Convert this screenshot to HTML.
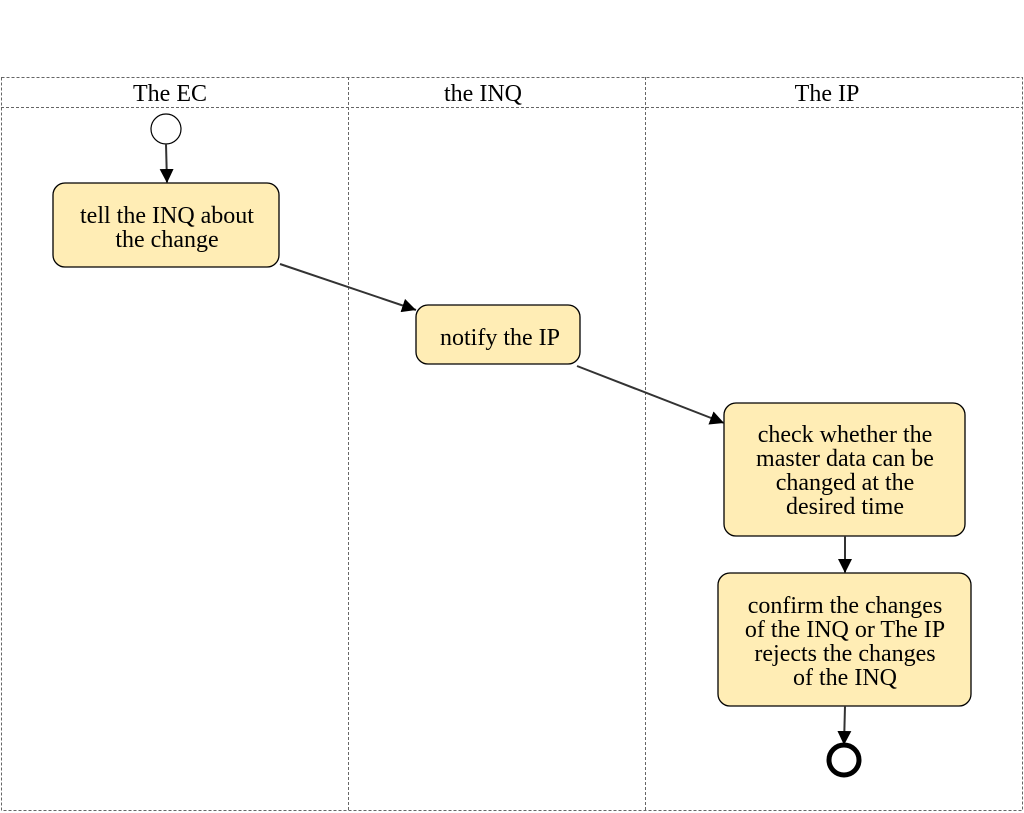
<!DOCTYPE html>
<html><head><style>body{margin:0;background:#fff}svg{display:block}text{font-family:"Liberation Serif",serif;font-size:24px;fill:#000;text-anchor:middle}</style></head><body>
<svg width="1024" height="813" viewBox="0 0 1024 813">
<defs><marker id="b" viewBox="0 0 10 10" refX="10" refY="5" markerWidth="14" markerHeight="14" markerUnits="userSpaceOnUse" orient="auto"><path d="M0,0L10,5L0,10z" fill="#000"/></marker></defs>
<g fill="none" stroke="#666" stroke-dasharray="3,2" stroke-width="1">
<rect x="1.5" y="77.5" width="1021" height="733"/>
<line x1="1" y1="107.5" x2="1023" y2="107.5"/>
<line x1="348.5" y1="77" x2="348.5" y2="811"/>
<line x1="645.5" y1="77" x2="645.5" y2="811"/>
</g>
<text x="170" y="101">The EC</text><text x="483" y="101">the INQ</text><text x="827" y="101">The IP</text>
<circle cx="166" cy="129" r="15" fill="#fff" stroke="#000" stroke-width="1.2"/>
<g fill="#ffedb5" stroke="#000" stroke-width="1.3">
<rect x="53" y="183" width="226" height="84" rx="12"/>
<rect x="416" y="305" width="164" height="59" rx="12"/>
<rect x="724" y="403" width="241" height="133" rx="12"/>
<rect x="718" y="573" width="253" height="133" rx="12"/>
</g>
<text x="167" y="223">tell the INQ about</text><text x="167" y="247">the change</text>
<text x="500" y="345">notify the IP</text>
<text x="845" y="442">check whether the</text><text x="845" y="466">master data can be</text><text x="845" y="490">changed at the</text><text x="845" y="514">desired time</text>
<text x="845" y="613">confirm the changes</text><text x="845" y="637">of the INQ or The IP</text><text x="845" y="661">rejects the changes</text><text x="845" y="685">of the INQ</text>
<g stroke="#333" stroke-width="2" fill="none">
<line x1="166" y1="144" x2="167" y2="183" marker-end="url(#b)"/>
<line x1="280" y1="264" x2="416" y2="310" marker-end="url(#b)"/>
<line x1="577" y1="366" x2="724" y2="423" marker-end="url(#b)"/>
<line x1="845" y1="536" x2="845" y2="573" marker-end="url(#b)"/>
<line x1="845" y1="706" x2="844" y2="745" marker-end="url(#b)"/>
</g>
<circle cx="844" cy="760" r="15" fill="#fff" stroke="#000" stroke-width="5"/>
</svg></body></html>
